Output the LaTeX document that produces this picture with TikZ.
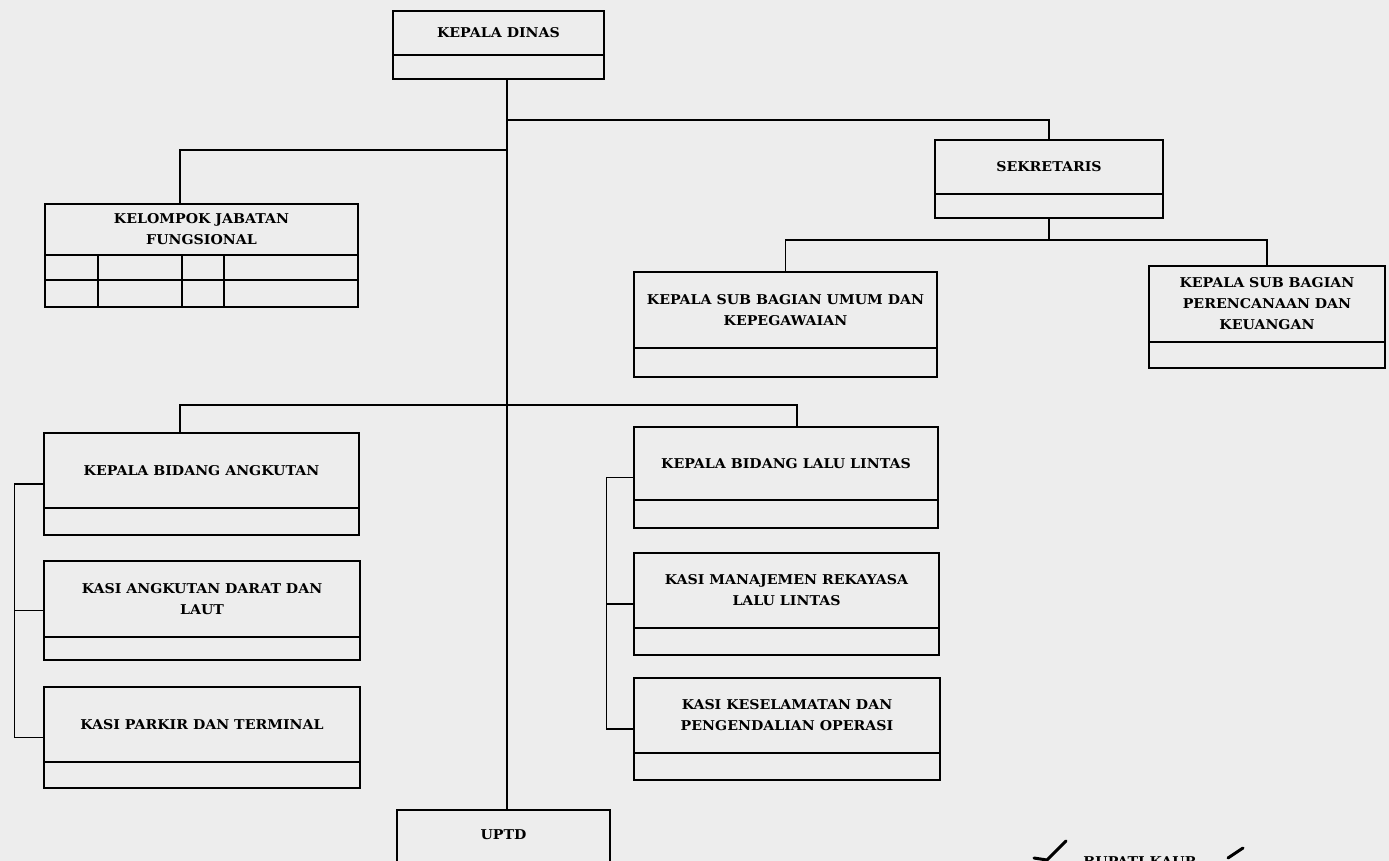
\documentclass[tikz,border=0pt]{standalone}
\usepackage{fontspec}
\setmainfont{DejaVu Serif}[FakeStretch=1.05]

\tikzset{
  unit/.style={draw, line width=1.4pt, rectangle, inner sep=0pt},
  caption/.style={align=center, inner sep=0pt, font=\fontsize{13.5}{21}\selectfont\bfseries},
  link/.style={line width=1.4pt},
}

% one box of the chart: name, left, top, right, bottom, divider, label
\newcommand{\orgunit}[7]{%
  \pgfmathsetmacro{\ux}{(#2+#4)/2}%
  \pgfmathsetmacro{\uy}{(#3+#5)/2}%
  \pgfmathsetmacro{\ty}{(#3+#6)/2}%
  \node[unit, minimum width={(#4-#2)*1pt}, minimum height={(#5-#3)*1pt}] (#1) at (\ux,\uy) {};
  \draw[link] (#2,#6) -- (#4,#6);
  \node[caption] (#1-t) at (\ux,\ty) {#7};
}

\begin{document}
\begin{tikzpicture}[x=1pt,y=-1pt]
  \useasboundingbox (0,0) rectangle (1389,861);
  \clip (0,0) rectangle (1389,861);
  \fill[black!7] (0,0) rectangle (1389,861);

  % the boxes
  \orgunit{kadis}{393}{11}{604}{79}{55}{KEPALA DINAS}
  \orgunit{kjf}{45}{204}{358}{307}{255}{KELOMPOK JABATAN\\FUNGSIONAL}
  \orgunit{sekr}{935}{140}{1163}{218}{194}{SEKRETARIS}
  \orgunit{ksbu}{634}{272}{937}{377}{348}{KEPALA SUB BAGIAN UMUM DAN\\KEPEGAWAIAN}
  \orgunit{ksbp}{1149}{266}{1385}{368}{342}{KEPALA SUB BAGIAN\\PERENCANAAN DAN\\KEUANGAN}
  \orgunit{kba}{44}{433}{359}{535}{508}{KEPALA BIDANG ANGKUTAN}
  \orgunit{kadl}{44}{561}{360}{660}{637}{KASI ANGKUTAN DARAT DAN\\LAUT}
  \orgunit{kpt}{44}{687}{360}{788}{762}{KASI PARKIR DAN TERMINAL}
  \orgunit{kbll}{634}{427}{938}{528}{500}{KEPALA BIDANG LALU LINTAS}
  \orgunit{kmrl}{634}{553}{939}{655}{628}{KASI MANAJEMEN REKAYASA\\LALU LINTAS}
  \orgunit{kkpo}{634}{678}{940}{780}{753}{KASI KESELAMATAN DAN\\PENGENDALIAN OPERASI}

  % grid under the functional group
  \draw[link] (45,280) -- (358,280);
  \foreach \x in {98,182,224}{
    \draw[link] (\x,255) -- (\x,307);
  }

  % UPTD runs off the bottom edge
  \node[unit, minimum width=213pt, minimum height=70pt] (uptd) at (503.5,845) {};
  \node[caption] (uptd-t) at (503.5,835) {UPTD};

  % junctions on the main line
  \coordinate (j1) at (507,120);
  \coordinate (j2) at (507,150);
  \coordinate (j3) at (1049,240);
  \coordinate (kjfdrop) at (180,150);
  \coordinate (ba) at (180,405);
  \coordinate (bl) at (797,405);

  % connectors
  \draw[link] (kadis.south -| j1) -- (uptd.north -| j1);
  \draw[link] (j1) -| (sekr.north);
  \draw[link] (j2) -- (kjfdrop) -- (kjfdrop |- kjf.north);
  \draw[link] (sekr.south) -- (j3);
  \draw[link] (ksbu.north) |- (j3) -| (ksbp.north);
  \draw[link] (ba |- kba.north) -- (ba) -- (bl) -- (bl |- kbll.north);

  % side rails of the two divisions
  \draw[link] (kba.west) -- ++(-29,0) |- (kpt.west);
  \draw[link] (kadl.west) -- ++(-29,0);
  \draw[link] (kbll.west) -- ++(-27,0) |- (kkpo.west);
  \draw[link] (kmrl.west) -- ++(-27,0);

  % signature line at the foot
  \node[caption, anchor=base] (bupati) at (1140,866) {BUPATI KAUR};
  \draw[line width=3pt, line cap=round] (1034,858) -- (1047,860) -- (1066,841);
  \draw[line width=3pt, line cap=round] (1228,858) -- (1243,848);
\end{tikzpicture}
\end{document}
